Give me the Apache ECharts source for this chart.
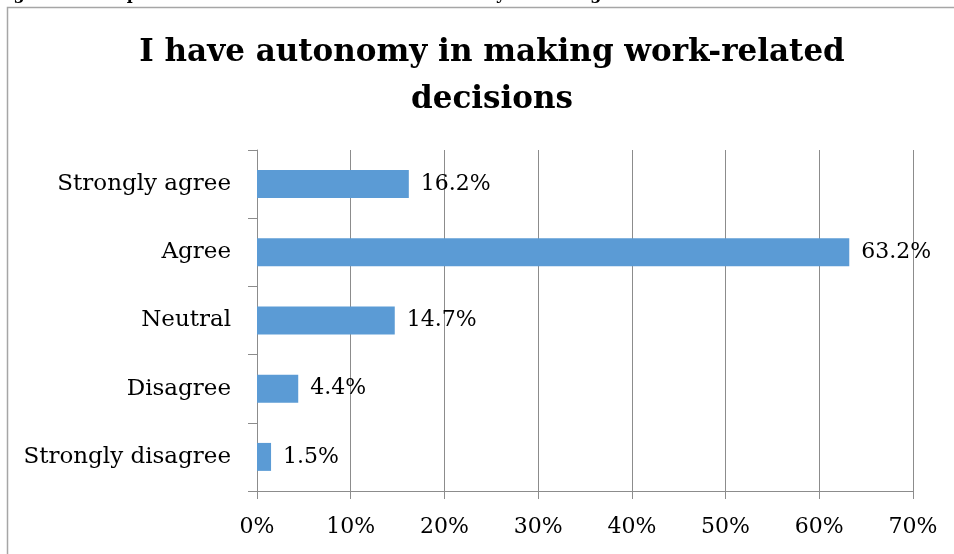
<!DOCTYPE html>
<html>
<head>
<meta charset="utf-8">
<script src="https://cdn.jsdelivr.net/npm/echarts@6/dist/echarts.min.js"></script>
<style>
  html, body { margin: 0; padding: 0; background: #fff; }
  #chart { width: 954px; height: 554px; }
</style>
</head>
<body>
<div id="chart"></div>
<script>
// Survey responses (percent of respondents)
const categories = ['Strongly agree', 'Agree', 'Neutral', 'Disagree', 'Strongly disagree'];
const shares = [16.2, 63.2, 14.7, 4.4, 1.5];
const xTicks = { min: 0, max: 70, step: 10 };

const titleText = 'I have autonomy in making work-related\ndecisions';
const captionText = 'Figure 29: Responses to the statement "I have autonomy in making work-related decisions"';

const serif = '"DejaVu Serif", "Liberation Serif", serif';
const gridGray = '#8c8c8c';

const chart = echarts.init(document.getElementById('chart'), null, { renderer: 'canvas' });

chart.setOption({
  backgroundColor: '#ffffff',
  animation: false,
  title: {
    text: titleText,
    left: 487,
    textAlign: 'center',
    top: 24,
    textStyle: {
      fontFamily: serif,
      fontWeight: 'bold',
      fontSize: 31,
      lineHeight: 47,
      color: '#000'
    }
  },
  graphic: [
    {
      type: 'rect',
      shape: { x: 7.5, y: 7.5, width: 1100, height: 700 },
      style: { fill: 'none', stroke: '#a6a6a6', lineWidth: 1.5 },
      z: -1
    },
    {
      type: 'text',
      left: -4,
      top: -13,
      style: {
        text: captionText,
        fontFamily: serif,
        fontWeight: 'bold',
        fontSize: 16,
        fill: '#000'
      }
    }
  ],
  grid: {
    left: 257,
    right: 41,
    top: 150,
    bottom: 63,
    containLabel: false
  },
  xAxis: {
    type: 'value',
    min: xTicks.min,
    max: xTicks.max,
    interval: xTicks.step,
    axisLine: { show: true, lineStyle: { color: gridGray, width: 1 } },
    axisTick: { show: true, length: 8, lineStyle: { color: gridGray } },
    splitLine: { show: true, lineStyle: { color: gridGray, width: 1 } },
    axisLabel: {
      formatter: '{value}%',
      fontFamily: serif,
      fontSize: 22,
      color: '#000',
      margin: 25
    }
  },
  yAxis: {
    type: 'category',
    data: categories,
    inverse: true,
    axisLine: { show: true, lineStyle: { color: gridGray, width: 1 } },
    axisTick: { show: true, length: 9, lineStyle: { color: gridGray } },
    axisLabel: {
      fontFamily: serif,
      fontSize: 23,
      color: '#000',
      margin: 26
    }
  },
  series: [
    {
      type: 'bar',
      data: shares,
      barCategoryGap: '59%',
      itemStyle: { color: '#5b9bd5' },
      label: {
        show: true,
        position: 'right',
        distance: 12,
        formatter: (p) => p.value.toFixed(1) + '%',
        fontFamily: serif,
        fontSize: 22,
        color: '#000'
      }
    }
  ]
});
</script>
</body>
</html>
